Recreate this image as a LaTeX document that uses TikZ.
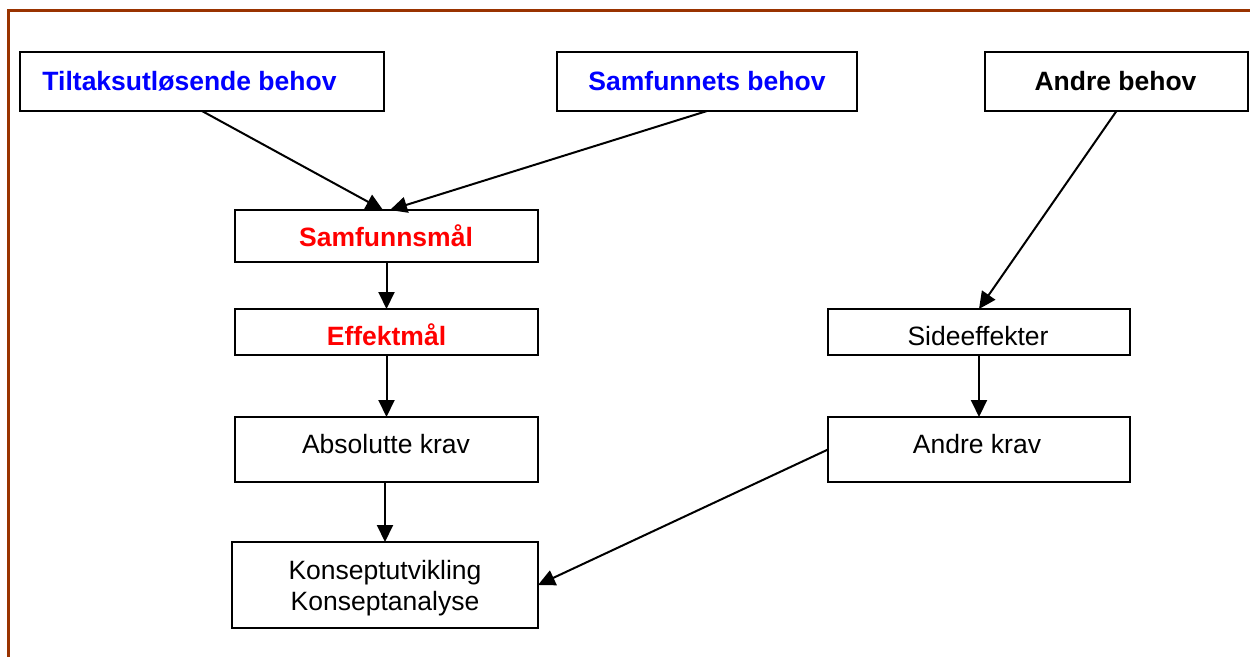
\documentclass[tikz,border=0pt]{standalone}
\usepackage{fontspec}
\setmainfont{Liberation Sans}
\usetikzlibrary{arrows.meta}
\definecolor{framec}{RGB}{153,51,0}
\definecolor{bluet}{RGB}{0,0,255}
\definecolor{redt}{RGB}{255,0,0}
\begin{document}
\begin{tikzpicture}[x=1pt,y=-1pt,
  box/.style={draw=black, line width=2.2pt, fill=white, inner sep=0pt, outer sep=0pt},
  lbl/.style={anchor=base, font=\fontsize{26.5}{31}\selectfont, inner sep=0pt},
  blbl/.style={lbl, font=\fontsize{26.5}{31}\selectfont\bfseries},
  conn/.style={line width=2pt, -{Triangle[length=17pt,width=16pt]}}]

\useasboundingbox (0,0) rectangle (1250,656);
\draw[framec, line width=2.8pt] (8.5,700) -- (8.5,10.5) -- (1300,10.5);

% boxes
\node[box, minimum width=364pt, minimum height=59pt] (tilt) at (202,81.5) {};
\node[box, minimum width=300pt, minimum height=59pt] (sbeh) at (707,81.5) {};
\node[box, minimum width=263pt, minimum height=59pt] (abeh) at (1116.5,81.5) {};
\node[box, minimum width=303pt, minimum height=52pt] (samf) at (386.5,236) {};
\node[box, minimum width=303pt, minimum height=46pt] (eff) at (386.5,332) {};
\node[box, minimum width=303pt, minimum height=65pt] (abs) at (386.5,449.5) {};
\node[box, minimum width=306pt, minimum height=86pt] (kons) at (385,585) {};
\node[box, minimum width=302pt, minimum height=46pt] (side) at (979,332) {};
\node[box, minimum width=302pt, minimum height=65pt] (akrav) at (979,449.5) {};

% texts
\node[blbl, text=bluet] (tiltT) at (189.5,90) {Tiltaksutløsende behov};
\node[blbl, text=bluet] (sbehT) at (707,90) {Samfunnets behov};
\node[blbl, text=black] (abehT) at (1115.5,90) {Andre behov};
\node[blbl, text=redt] (samfT) at (386,246) {Samfunnsmål};
\node[blbl, text=redt] (effT) at (386.5,345) {Effektmål};
\node[lbl] (absT) at (386,453) {Absolutte krav};
\node[lbl] (sideT) at (978,345) {Sideeffekter};
\node[lbl] (akravT) at (977,453) {Andre krav};
\node[lbl] (konsT1) at (385,579) {Konseptutvikling};
\node[lbl] (konsT2) at (385,610) {Konseptanalyse};

% connectors
\draw[conn] (tilt.south) -- ([xshift=-3.5pt]samf.north);
\draw[conn] (sbeh.south) -- ([xshift=3.5pt]samf.north);
\draw[conn] (abeh.south) -- (side.north);
\draw[conn] (samf.south) -- (eff.north);
\draw[conn] (eff.south) -- (abs.north);
\draw[conn] (abs.south -| kons.north) -- (kons.north);
\draw[conn] (side.south) -- (akrav.north);
\draw[conn] (akrav.west) -- (kons.east);
\end{tikzpicture}
\end{document}
